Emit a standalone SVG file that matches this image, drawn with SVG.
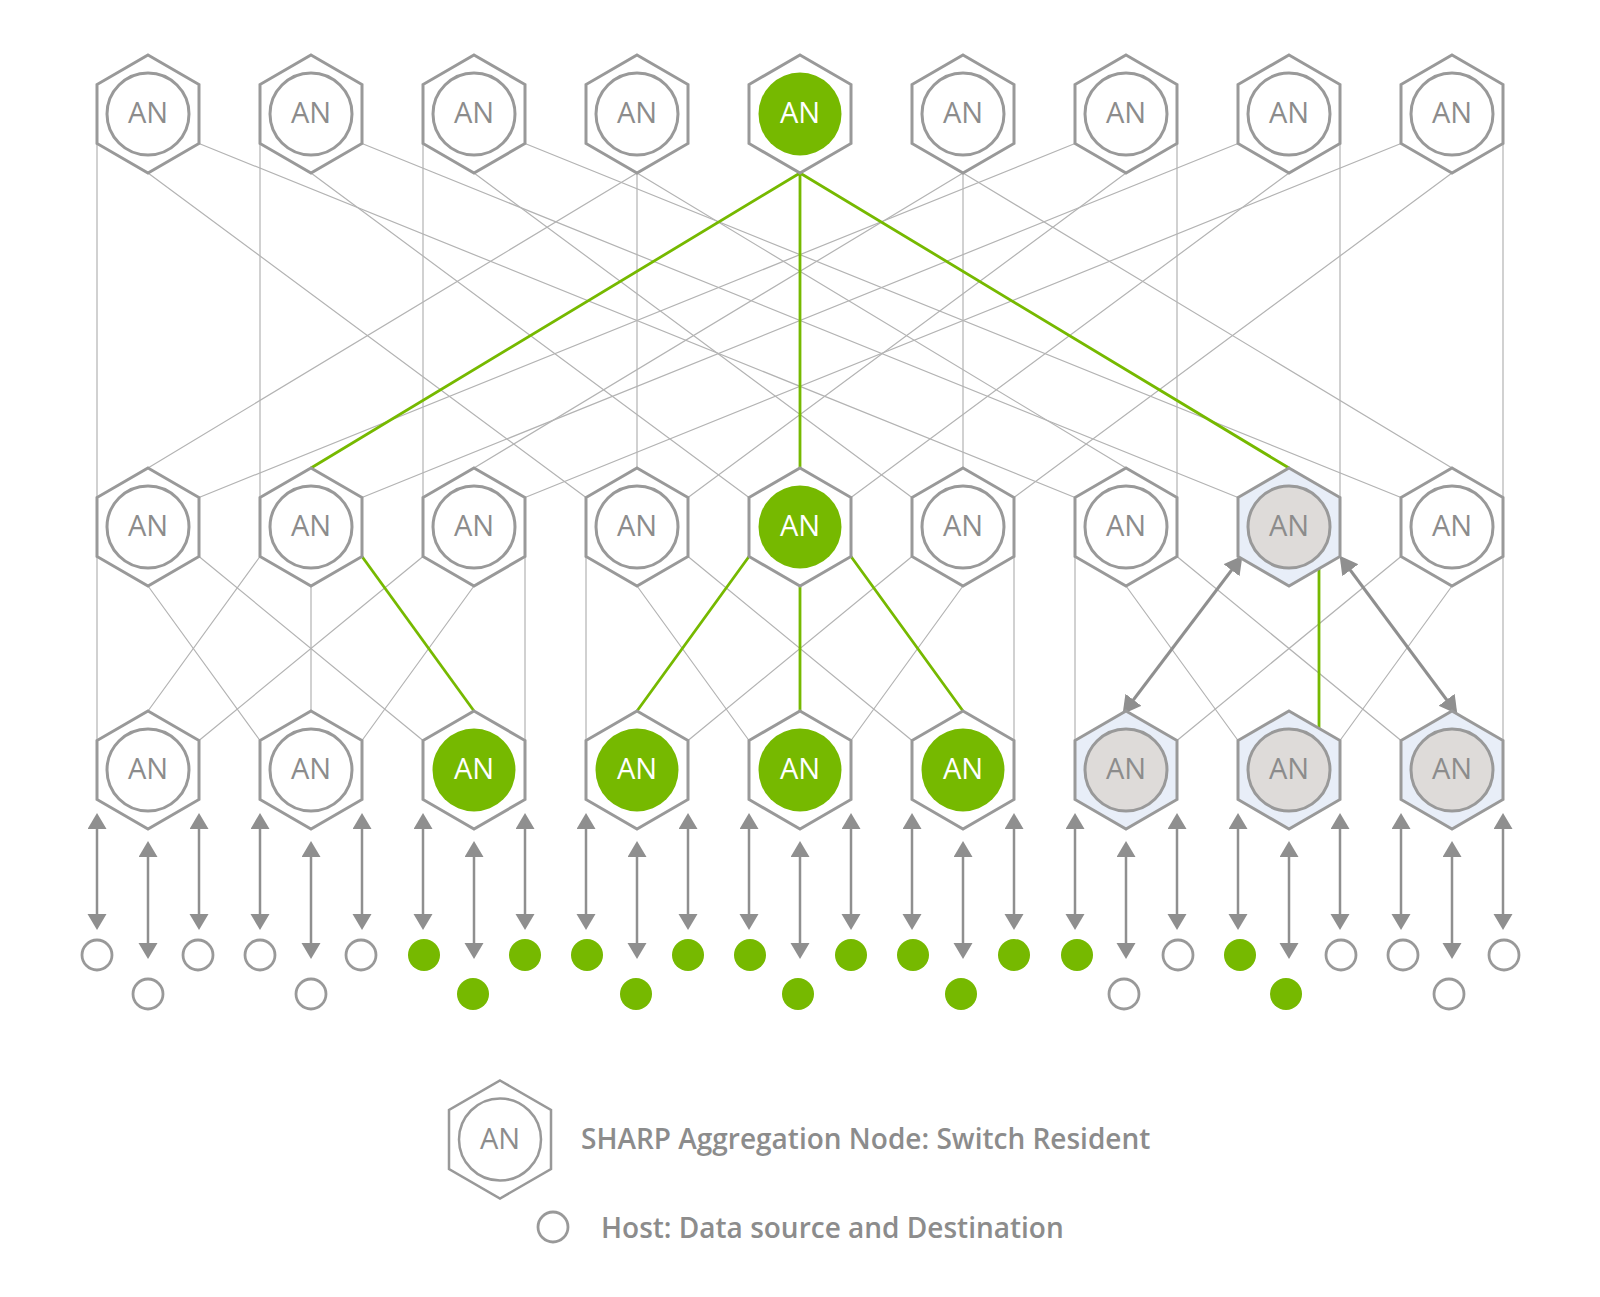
<svg xmlns="http://www.w3.org/2000/svg" width="1600" height="1297" viewBox="0 0 1600 1297">
<style>
.bg{fill:#ffffff}
.ln{stroke:#b3b3b3;stroke-width:1.2;fill:none}
.gr{stroke:#76b900;stroke-width:2.8;fill:none}
.hx{fill:#ffffff;stroke:#999999;stroke-width:3}
.hxb{fill:#e8eef8;stroke:#999999;stroke-width:3}
.cw{fill:#ffffff;stroke:#999999;stroke-width:3}
.cg{fill:#76b900}
.cb{fill:#dedbd9;stroke:#999999;stroke-width:3}
.t{font-family:'Open Sans','Liberation Sans',sans-serif;font-size:29px;fill:#8c8c8c;text-anchor:middle}
.tw{fill:#ffffff}
.ar line{stroke:#8f8f8f;stroke-width:2.5;fill:none;marker-start:url(#ah);marker-end:url(#ah)}
.ar2{stroke:#8f8f8f;stroke-width:3;fill:none;marker-start:url(#ah2);marker-end:url(#ah2)}
.hw{fill:#ffffff;stroke:#999999;stroke-width:2.8}
.hg{fill:#76b900}
.lg{font-family:'Open Sans','Liberation Sans',sans-serif;font-size:28px;font-weight:600;fill:#8c8c8c}
</style>
<defs>
<path id="hex" d="M0,-59 L51,-29.5 L51,29.5 L0,59 L-51,29.5 L-51,-29.5 Z"/>
<marker id="ah" markerUnits="userSpaceOnUse" markerWidth="20" markerHeight="20" refX="8" refY="9.5" orient="auto-start-reverse"><path d="M0,0 L16,9.5 L0,19 Z" fill="#8f8f8f"/></marker>
<marker id="ah2" markerUnits="userSpaceOnUse" markerWidth="22" markerHeight="22" refX="9" refY="10" orient="auto-start-reverse"><path d="M0,0 L18,10 L0,20 Z" fill="#8f8f8f"/></marker>
</defs>
<rect class="bg" x="0" y="0" width="1600" height="1297"/>
<g id="connectors">
<g id="top-mid">
<path class="ln" d="M97,143.5 L97,497.5 M148,173 L586,497.5 M199,143.5 L1075,497.5"/>
<path class="ln" d="M260,143.5 L260,497.5 M311,173 L749,497.5 M362,143.5 L1238,497.5"/>
<path class="ln" d="M423,143.5 L423,497.5 M474,173 L912,497.5 M525,143.5 L1401,497.5"/>
<path class="ln" d="M637,173 L148,468 M637,173 L637,468 M637,173 L1126,468"/>
<path class="ln" d="M963,173 L474,468 M963,173 L963,468 M963,173 L1452,468"/>
<path class="ln" d="M1075,143.5 L199,497.5 M1126,173 L688,497.5 M1177,143.5 L1177,497.5"/>
<path class="ln" d="M1238,143.5 L362,497.5 M1289,173 L851,497.5 M1340,143.5 L1340,497.5"/>
<path class="ln" d="M1401,143.5 L525,497.5 M1452,173 L1014,497.5 M1503,143.5 L1503,497.5"/>
<path class="gr" d="M800,173 L311,468 M800,173 L800,468 M800,173 L1289,468"/>
</g>
<g id="mid-bottom">
<path class="ln" d="M97,556.5 L97,740.5 M148,586 L260,740.5 M199,556.5 L423,740.5"/>
<path class="ln" d="M260,556.5 L148,711 M311,586 L311,711"/>
<path class="ln" d="M423,556.5 L199,740.5 M474,586 L362,740.5 M525,556.5 L525,740.5"/>
<path class="ln" d="M586,556.5 L586,740.5 M637,586 L749,740.5 M688,556.5 L912,740.5"/>
<path class="ln" d="M912,556.5 L688,740.5 M963,586 L851,740.5 M1014,556.5 L1014,740.5"/>
<path class="ln" d="M1075,556.5 L1075,740.5 M1126,586 L1238,740.5 M1177,556.5 L1401,740.5"/>
<path class="ln" d="M1401,556.5 L1177,740.5 M1452,586 L1340,740.5 M1503,556.5 L1503,740.5"/>
<path class="gr" d="M362,556.5 L474,711"/>
<path class="gr" d="M749,556.5 L637,711 M800,586 L800,711 M851,556.5 L963,711"/>
<path class="gr" d="M1319,569 L1319,729"/>
<line class="ar2" x1="1237" y1="563" x2="1128" y2="707"/>
<line class="ar2" x1="1345" y1="563" x2="1452" y2="707"/>
</g>
<g id="host-links" class="ar">
<line x1="97" y1="821" x2="97" y2="922"/><line x1="148" y1="849" x2="148" y2="951"/><line x1="199" y1="821" x2="199" y2="922"/>
<line x1="260" y1="821" x2="260" y2="922"/><line x1="311" y1="849" x2="311" y2="951"/><line x1="362" y1="821" x2="362" y2="922"/>
<line x1="423" y1="821" x2="423" y2="922"/><line x1="474" y1="849" x2="474" y2="951"/><line x1="525" y1="821" x2="525" y2="922"/>
<line x1="586" y1="821" x2="586" y2="922"/><line x1="637" y1="849" x2="637" y2="951"/><line x1="688" y1="821" x2="688" y2="922"/>
<line x1="749" y1="821" x2="749" y2="922"/><line x1="800" y1="849" x2="800" y2="951"/><line x1="851" y1="821" x2="851" y2="922"/>
<line x1="912" y1="821" x2="912" y2="922"/><line x1="963" y1="849" x2="963" y2="951"/><line x1="1014" y1="821" x2="1014" y2="922"/>
<line x1="1075" y1="821" x2="1075" y2="922"/><line x1="1126" y1="849" x2="1126" y2="951"/><line x1="1177" y1="821" x2="1177" y2="922"/>
<line x1="1238" y1="821" x2="1238" y2="922"/><line x1="1289" y1="849" x2="1289" y2="951"/><line x1="1340" y1="821" x2="1340" y2="922"/>
<line x1="1401" y1="821" x2="1401" y2="922"/><line x1="1452" y1="849" x2="1452" y2="951"/><line x1="1503" y1="821" x2="1503" y2="922"/>
</g>
</g>
<g id="top-row">
<g id="top0" transform="translate(148,114)"><use href="#hex" class="hx"/><circle r="41" class="cw"/><text class="t" y="9">AN</text></g>
<g id="top1" transform="translate(311,114)"><use href="#hex" class="hx"/><circle r="41" class="cw"/><text class="t" y="9">AN</text></g>
<g id="top2" transform="translate(474,114)"><use href="#hex" class="hx"/><circle r="41" class="cw"/><text class="t" y="9">AN</text></g>
<g id="top3" transform="translate(637,114)"><use href="#hex" class="hx"/><circle r="41" class="cw"/><text class="t" y="9">AN</text></g>
<g id="top4" transform="translate(800,114)"><use href="#hex" class="hx"/><circle r="41.5" class="cg"/><text class="t tw" y="9">AN</text></g>
<g id="top5" transform="translate(963,114)"><use href="#hex" class="hx"/><circle r="41" class="cw"/><text class="t" y="9">AN</text></g>
<g id="top6" transform="translate(1126,114)"><use href="#hex" class="hx"/><circle r="41" class="cw"/><text class="t" y="9">AN</text></g>
<g id="top7" transform="translate(1289,114)"><use href="#hex" class="hx"/><circle r="41" class="cw"/><text class="t" y="9">AN</text></g>
<g id="top8" transform="translate(1452,114)"><use href="#hex" class="hx"/><circle r="41" class="cw"/><text class="t" y="9">AN</text></g>
</g>
<g id="mid-row">
<g id="mid0" transform="translate(148,527)"><use href="#hex" class="hx"/><circle r="41" class="cw"/><text class="t" y="9">AN</text></g>
<g id="mid1" transform="translate(311,527)"><use href="#hex" class="hx"/><circle r="41" class="cw"/><text class="t" y="9">AN</text></g>
<g id="mid2" transform="translate(474,527)"><use href="#hex" class="hx"/><circle r="41" class="cw"/><text class="t" y="9">AN</text></g>
<g id="mid3" transform="translate(637,527)"><use href="#hex" class="hx"/><circle r="41" class="cw"/><text class="t" y="9">AN</text></g>
<g id="mid4" transform="translate(800,527)"><use href="#hex" class="hx"/><circle r="41.5" class="cg"/><text class="t tw" y="9">AN</text></g>
<g id="mid5" transform="translate(963,527)"><use href="#hex" class="hx"/><circle r="41" class="cw"/><text class="t" y="9">AN</text></g>
<g id="mid6" transform="translate(1126,527)"><use href="#hex" class="hx"/><circle r="41" class="cw"/><text class="t" y="9">AN</text></g>
<g id="mid7" transform="translate(1289,527)"><use href="#hex" class="hxb"/><circle r="41" class="cb"/><text class="t" y="9">AN</text></g>
<g id="mid8" transform="translate(1452,527)"><use href="#hex" class="hx"/><circle r="41" class="cw"/><text class="t" y="9">AN</text></g>
</g>
<g id="bottom-row">
<g id="bot0" transform="translate(148,770)"><use href="#hex" class="hx"/><circle r="41" class="cw"/><text class="t" y="9">AN</text></g>
<g id="bot1" transform="translate(311,770)"><use href="#hex" class="hx"/><circle r="41" class="cw"/><text class="t" y="9">AN</text></g>
<g id="bot2" transform="translate(474,770)"><use href="#hex" class="hx"/><circle r="41.5" class="cg"/><text class="t tw" y="9">AN</text></g>
<g id="bot3" transform="translate(637,770)"><use href="#hex" class="hx"/><circle r="41.5" class="cg"/><text class="t tw" y="9">AN</text></g>
<g id="bot4" transform="translate(800,770)"><use href="#hex" class="hx"/><circle r="41.5" class="cg"/><text class="t tw" y="9">AN</text></g>
<g id="bot5" transform="translate(963,770)"><use href="#hex" class="hx"/><circle r="41.5" class="cg"/><text class="t tw" y="9">AN</text></g>
<g id="bot6" transform="translate(1126,770)"><use href="#hex" class="hxb"/><circle r="41" class="cb"/><text class="t" y="9">AN</text></g>
<g id="bot7" transform="translate(1289,770)"><use href="#hex" class="hxb"/><circle r="41" class="cb"/><text class="t" y="9">AN</text></g>
<g id="bot8" transform="translate(1452,770)"><use href="#hex" class="hxb"/><circle r="41" class="cb"/><text class="t" y="9">AN</text></g>
</g>
<g id="hosts">
<circle id="h0a" cx="97" cy="955" r="15" class="hw"/><circle id="h0b" cx="148" cy="994" r="15" class="hw"/><circle id="h0c" cx="198" cy="955" r="15" class="hw"/>
<circle id="h1a" cx="260" cy="955" r="15" class="hw"/><circle id="h1b" cx="311" cy="994" r="15" class="hw"/><circle id="h1c" cx="361" cy="955" r="15" class="hw"/>
<circle id="h2a" cx="424" cy="955" r="16" class="hg"/><circle id="h2b" cx="473" cy="994" r="16" class="hg"/><circle id="h2c" cx="525" cy="955" r="16" class="hg"/>
<circle id="h3a" cx="587" cy="955" r="16" class="hg"/><circle id="h3b" cx="636" cy="994" r="16" class="hg"/><circle id="h3c" cx="688" cy="955" r="16" class="hg"/>
<circle id="h4a" cx="750" cy="955" r="16" class="hg"/><circle id="h4b" cx="798" cy="994" r="16" class="hg"/><circle id="h4c" cx="851" cy="955" r="16" class="hg"/>
<circle id="h5a" cx="913" cy="955" r="16" class="hg"/><circle id="h5b" cx="961" cy="994" r="16" class="hg"/><circle id="h5c" cx="1014" cy="955" r="16" class="hg"/>
<circle id="h6a" cx="1077" cy="955" r="16" class="hg"/><circle id="h6b" cx="1124" cy="994" r="15" class="hw"/><circle id="h6c" cx="1178" cy="955" r="15" class="hw"/>
<circle id="h7a" cx="1240" cy="955" r="16" class="hg"/><circle id="h7b" cx="1286" cy="994" r="16" class="hg"/><circle id="h7c" cx="1341" cy="955" r="15" class="hw"/>
<circle id="h8a" cx="1403" cy="955" r="15" class="hw"/><circle id="h8b" cx="1449" cy="994" r="15" class="hw"/><circle id="h8c" cx="1504" cy="955" r="15" class="hw"/>
</g>
<g id="legend">
<g id="legend-an" transform="translate(500,1139.5)"><use href="#hex" class="hx" style="stroke-width:2.5"/><circle r="41" class="cw" style="stroke-width:2.5"/><text class="t" y="9">AN</text></g>
<text class="lg" x="581" y="1149">SHARP Aggregation Node: Switch Resident</text>
<g id="legend-host"><circle cx="553" cy="1227" r="15" class="hw"/></g>
<text class="lg" x="601" y="1238">Host: Data source and Destination</text>
</g>
</svg>
